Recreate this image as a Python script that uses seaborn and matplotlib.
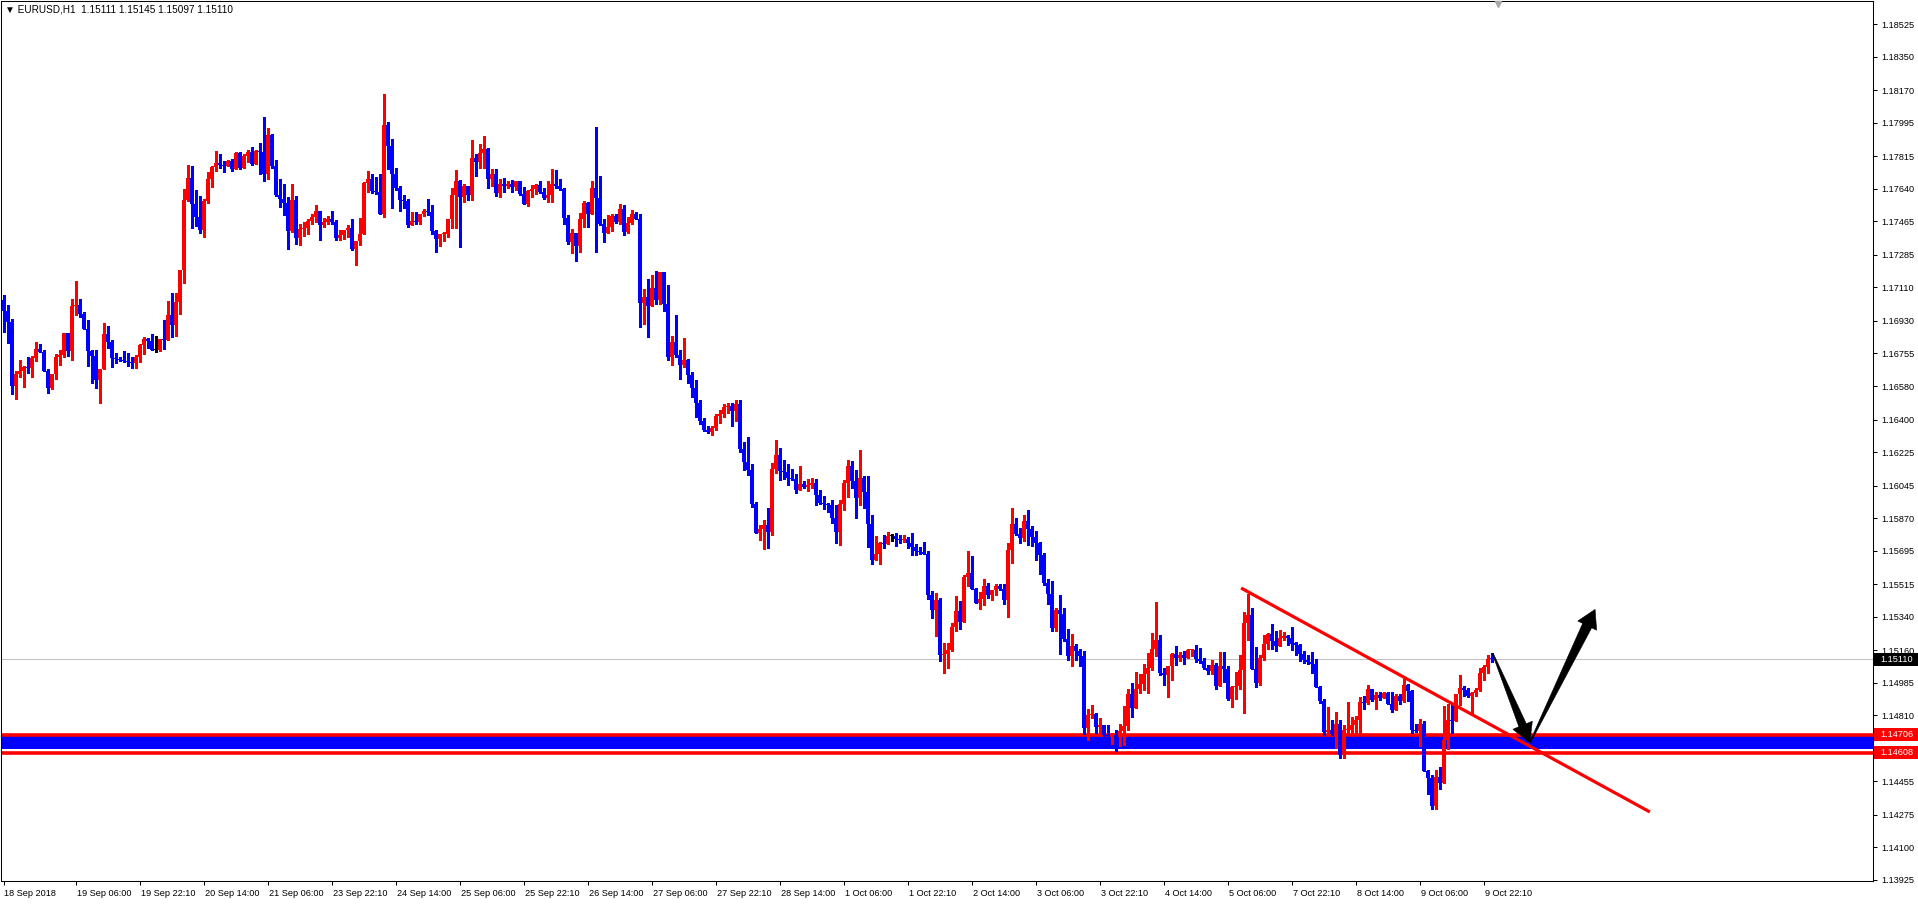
import numpy as np
import matplotlib
matplotlib.use("Agg")
import matplotlib.pyplot as plt
import matplotlib.transforms as mtransforms
from matplotlib.patches import Polygon, Rectangle
import seaborn as sns

symbol = "EURUSD,H1"
header_quote = "1.15111 1.15145 1.15097 1.15110"
first_open = 1.17041

close_px = [
    1.16984, 1.16925, 1.16580, 1.16647, 1.16659, 1.16683, 1.16675, 1.16731, 1.16778, 1.16763,
    1.16661, 1.16570, 1.16643, 1.16736, 1.16745, 1.16865, 1.16769, 1.17009, 1.17014, 1.16969,
    1.16885, 1.16769, 1.16742, 1.16614, 1.16674, 1.16858, 1.16817, 1.16731, 1.16724, 1.16718,
    1.16715, 1.16709, 1.16704, 1.16734, 1.16799, 1.16835, 1.16822, 1.16772, 1.16772, 1.16831,
    1.16826, 1.16960, 1.16910, 1.17030, 1.17202, 1.17578, 1.17697, 1.17560, 1.17489, 1.17417,
    1.17573, 1.17691, 1.17756, 1.17777, 1.17768, 1.17765, 1.17788, 1.17745, 1.17833, 1.17754,
    1.17817, 1.17838, 1.17772, 1.17842, 1.17838, 1.17722, 1.17928, 1.17761, 1.17605, 1.17586,
    1.17564, 1.17414, 1.17578, 1.17378, 1.17422, 1.17430, 1.17467, 1.17489, 1.17520, 1.17444,
    1.17462, 1.17477, 1.17462, 1.17376, 1.17391, 1.17418, 1.17430, 1.17317, 1.17358, 1.17400,
    1.17672, 1.17692, 1.17627, 1.17624, 1.17504, 1.17984, 1.17871, 1.17719, 1.17645, 1.17582,
    1.17575, 1.17444, 1.17466, 1.17462, 1.17504, 1.17520, 1.17516, 1.17414, 1.17373, 1.17396,
    1.17400, 1.17477, 1.17606, 1.17681, 1.17597, 1.17654, 1.17605, 1.17808, 1.17784, 1.17835,
    1.17853, 1.17691, 1.17718, 1.17618, 1.17664, 1.17654, 1.17664, 1.17650, 1.17681, 1.17614,
    1.17560, 1.17627, 1.17638, 1.17659, 1.17623, 1.17593, 1.17605, 1.17664, 1.17654, 1.17638,
    1.17483, 1.17354, 1.17403, 1.17333, 1.17476, 1.17564, 1.17503, 1.17647, 1.17591, 1.17453,
    1.17403, 1.17436, 1.17493, 1.17463, 1.17531, 1.17409, 1.17454, 1.17504, 1.17477, 1.17027,
    1.17056, 1.17009, 1.17108, 1.17041, 1.17192, 1.17023, 1.16737, 1.16817, 1.16746, 1.16692,
    1.16722, 1.16638, 1.16570, 1.16489, 1.16393, 1.16343, 1.16334, 1.16355, 1.16418, 1.16428,
    1.16468, 1.16472, 1.16445, 1.16482, 1.16244, 1.16172, 1.16127, 1.15945, 1.15791, 1.15814,
    1.15835, 1.15795, 1.16132, 1.16208, 1.16122, 1.16118, 1.16086, 1.16079, 1.16023, 1.16052,
    1.16037, 1.16046, 1.16061, 1.15993, 1.15951, 1.15944, 1.15939, 1.15871, 1.15795, 1.15948,
    1.16061, 1.16148, 1.16070, 1.15978, 1.16088, 1.16010, 1.15840, 1.15647, 1.15675, 1.15738,
    1.15729, 1.15772, 1.15772, 1.15756, 1.15751, 1.15760, 1.15738, 1.15715, 1.15691, 1.15688,
    1.15679, 1.15455, 1.15374, 1.15428, 1.15132, 1.15138, 1.15159, 1.15285, 1.15369, 1.15311,
    1.15553, 1.15575, 1.15487, 1.15414, 1.15433, 1.15503, 1.15455, 1.15482, 1.15503, 1.15491,
    1.15428, 1.15697, 1.15840, 1.15783, 1.15763, 1.15854, 1.15810, 1.15768, 1.15736, 1.15670,
    1.15521, 1.15460, 1.15279, 1.15374, 1.15353, 1.15218, 1.15129, 1.15181, 1.15155, 1.15129,
    1.14742, 1.14810, 1.14815, 1.14747, 1.14756, 1.14702, 1.14700, 1.14706, 1.14693, 1.14724,
    1.14751, 1.14923, 1.14849, 1.14949, 1.14980, 1.15030, 1.15066, 1.15168, 1.15213, 1.15037,
    1.15028, 1.15073, 1.15138, 1.15118, 1.15132, 1.15118, 1.15159, 1.15163, 1.15111, 1.15100,
    1.15064, 1.15046, 1.15079, 1.14966, 1.15075, 1.15057, 1.14899, 1.14962, 1.14967, 1.15052,
    1.15308, 1.15348, 1.15057, 1.14984, 1.15120, 1.15195, 1.15249, 1.15210, 1.15183, 1.15228,
    1.15235, 1.15226, 1.15192, 1.15190, 1.15142, 1.15106, 1.15097, 1.15088, 1.14962, 1.14885,
    1.14720, 1.14729, 1.14711, 1.14762, 1.14595, 1.14729, 1.14733, 1.14756, 1.14787, 1.14882,
    1.14876, 1.14950, 1.14894, 1.14917, 1.14905, 1.14930, 1.14873, 1.14840, 1.14912, 1.14887,
    1.14971, 1.14941, 1.14729, 1.14726, 1.14765, 1.14511, 1.14475, 1.14322, 1.14478, 1.14446,
    1.14675, 1.14783, 1.14781, 1.14923, 1.14958, 1.14948, 1.14912, 1.14932, 1.14944, 1.15037,
    1.15070, 1.15111, 1.15110,
]

high_px = [
    1.17068, 1.17014, 1.16942, 1.16659, 1.16718, 1.16686, 1.16736, 1.16740, 1.16815, 1.16808,
    1.16772, 1.16674, 1.16647, 1.16754, 1.16772, 1.16865, 1.16862, 1.17046, 1.17143, 1.17050,
    1.16978, 1.16933, 1.16772, 1.16772, 1.16674, 1.16919, 1.16901, 1.16826, 1.16760, 1.16736,
    1.16767, 1.16758, 1.16738, 1.16745, 1.16808, 1.16844, 1.16837, 1.16858, 1.16847, 1.16835,
    1.16933, 1.17035, 1.17080, 1.17080, 1.17202, 1.17638, 1.17767, 1.17761, 1.17632, 1.17600,
    1.17584, 1.17729, 1.17761, 1.17842, 1.17826, 1.17788, 1.17797, 1.17799, 1.17836, 1.17838,
    1.17829, 1.17847, 1.17865, 1.17847, 1.17887, 1.18026, 1.17966, 1.17933, 1.17793, 1.17691,
    1.17664, 1.17596, 1.17664, 1.17600, 1.17449, 1.17462, 1.17476, 1.17507, 1.17552, 1.17513,
    1.17484, 1.17493, 1.17520, 1.17471, 1.17418, 1.17420, 1.17444, 1.17477, 1.17358, 1.17484,
    1.17677, 1.17737, 1.17722, 1.17704, 1.17722, 1.18149, 1.18000, 1.17910, 1.17753, 1.17654,
    1.17606, 1.17584, 1.17513, 1.17513, 1.17507, 1.17534, 1.17584, 1.17552, 1.17418, 1.17400,
    1.17409, 1.17477, 1.17647, 1.17740, 1.17690, 1.17668, 1.17654, 1.17901, 1.17829, 1.17880,
    1.17922, 1.17860, 1.17745, 1.17749, 1.17695, 1.17700, 1.17681, 1.17686, 1.17681, 1.17681,
    1.17650, 1.17636, 1.17659, 1.17664, 1.17681, 1.17646, 1.17681, 1.17749, 1.17740, 1.17691,
    1.17646, 1.17498, 1.17423, 1.17403, 1.17512, 1.17575, 1.17569, 1.17681, 1.17973, 1.17707,
    1.17476, 1.17502, 1.17507, 1.17507, 1.17561, 1.17552, 1.17489, 1.17525, 1.17516, 1.17507,
    1.17104, 1.17158, 1.17176, 1.17197, 1.17192, 1.17194, 1.17122, 1.16848, 1.16961, 1.16776,
    1.16839, 1.16724, 1.16656, 1.16615, 1.16504, 1.16409, 1.16364, 1.16364, 1.16432, 1.16450,
    1.16481, 1.16490, 1.16490, 1.16504, 1.16504, 1.16280, 1.16307, 1.16160, 1.15957, 1.15832,
    1.15862, 1.15924, 1.16166, 1.16288, 1.16247, 1.16184, 1.16159, 1.16136, 1.16109, 1.16148,
    1.16068, 1.16079, 1.16088, 1.16079, 1.16019, 1.15987, 1.15953, 1.15969, 1.15939, 1.15966,
    1.16073, 1.16181, 1.16175, 1.16127, 1.16234, 1.16095, 1.16095, 1.15885, 1.15772, 1.15742,
    1.15778, 1.15795, 1.15786, 1.15790, 1.15781, 1.15777, 1.15768, 1.15792, 1.15733, 1.15715,
    1.15742, 1.15691, 1.15476, 1.15467, 1.15442, 1.15200, 1.15198, 1.15308, 1.15449, 1.15424,
    1.15562, 1.15691, 1.15664, 1.15494, 1.15473, 1.15544, 1.15521, 1.15485, 1.15514, 1.15514,
    1.15514, 1.15736, 1.15926, 1.15872, 1.15818, 1.15885, 1.15915, 1.15827, 1.15799, 1.15742,
    1.15682, 1.15541, 1.15530, 1.15388, 1.15455, 1.15387, 1.15272, 1.15245, 1.15195, 1.15168,
    1.15154, 1.14846, 1.14864, 1.14824, 1.14795, 1.14756, 1.14756, 1.14717, 1.14733, 1.14765,
    1.14858, 1.14953, 1.14984, 1.15043, 1.15030, 1.15084, 1.15145, 1.15254, 1.15419, 1.15240,
    1.15066, 1.15073, 1.15145, 1.15181, 1.15150, 1.15154, 1.15164, 1.15164, 1.15186, 1.15172,
    1.15120, 1.15079, 1.15105, 1.15091, 1.15150, 1.15150, 1.15073, 1.14967, 1.15043, 1.15132,
    1.15366, 1.15464, 1.15384, 1.15177, 1.15133, 1.15240, 1.15254, 1.15303, 1.15262, 1.15267,
    1.15258, 1.15244, 1.15285, 1.15204, 1.15195, 1.15154, 1.15133, 1.15150, 1.15115, 1.14966,
    1.14900, 1.14855, 1.14783, 1.14828, 1.14783, 1.14756, 1.14882, 1.14801, 1.14805, 1.14909,
    1.14912, 1.14971, 1.14953, 1.14935, 1.14935, 1.14935, 1.14935, 1.14935, 1.14926, 1.14926,
    1.15007, 1.14980, 1.14944, 1.14765, 1.14792, 1.14778, 1.14514, 1.14487, 1.14514, 1.14532,
    1.14858, 1.14869, 1.14873, 1.14926, 1.15025, 1.14966, 1.14957, 1.14935, 1.14959, 1.15066,
    1.15082, 1.15136, 1.15145,
]

low_px = [
    1.16871, 1.16812, 1.16539, 1.16512, 1.16629, 1.16575, 1.16650, 1.16629, 1.16715, 1.16763,
    1.16661, 1.16543, 1.16564, 1.16620, 1.16692, 1.16736, 1.16740, 1.16722, 1.16960, 1.16951,
    1.16885, 1.16686, 1.16597, 1.16571, 1.16489, 1.16672, 1.16786, 1.16683, 1.16704, 1.16715,
    1.16709, 1.16688, 1.16679, 1.16677, 1.16709, 1.16754, 1.16786, 1.16772, 1.16763, 1.16769,
    1.16781, 1.16826, 1.16844, 1.16849, 1.16969, 1.17134, 1.17573, 1.17430, 1.17439, 1.17403,
    1.17381, 1.17564, 1.17650, 1.17736, 1.17752, 1.17731, 1.17763, 1.17736, 1.17745, 1.17745,
    1.17758, 1.17784, 1.17767, 1.17772, 1.17718, 1.17682, 1.17695, 1.17754, 1.17600, 1.17543,
    1.17498, 1.17317, 1.17408, 1.17342, 1.17336, 1.17385, 1.17396, 1.17450, 1.17462, 1.17364,
    1.17435, 1.17450, 1.17450, 1.17364, 1.17367, 1.17369, 1.17382, 1.17313, 1.17229, 1.17340,
    1.17396, 1.17624, 1.17620, 1.17615, 1.17504, 1.17489, 1.17746, 1.17538, 1.17636, 1.17522,
    1.17538, 1.17436, 1.17444, 1.17450, 1.17453, 1.17493, 1.17498, 1.17396, 1.17301, 1.17333,
    1.17360, 1.17382, 1.17427, 1.17427, 1.17328, 1.17569, 1.17582, 1.17578, 1.17707, 1.17752,
    1.17752, 1.17645, 1.17654, 1.17600, 1.17596, 1.17623, 1.17645, 1.17623, 1.17636, 1.17605,
    1.17557, 1.17546, 1.17596, 1.17611, 1.17618, 1.17587, 1.17569, 1.17569, 1.17646, 1.17632,
    1.17449, 1.17342, 1.17295, 1.17252, 1.17301, 1.17435, 1.17435, 1.17503, 1.17301, 1.17448,
    1.17355, 1.17403, 1.17412, 1.17454, 1.17450, 1.17394, 1.17403, 1.17450, 1.17477, 1.16898,
    1.16911, 1.16841, 1.17014, 1.17020, 1.17023, 1.16984, 1.16722, 1.16692, 1.16737, 1.16620,
    1.16683, 1.16597, 1.16522, 1.16411, 1.16375, 1.16339, 1.16325, 1.16316, 1.16343, 1.16382,
    1.16414, 1.16436, 1.16364, 1.16393, 1.16226, 1.16131, 1.16101, 1.15931, 1.15791, 1.15751,
    1.15702, 1.15709, 1.15777, 1.16113, 1.16073, 1.16082, 1.16046, 1.16077, 1.16005, 1.16046,
    1.16032, 1.16016, 1.16034, 1.15939, 1.15944, 1.15917, 1.15903, 1.15844, 1.15736, 1.15727,
    1.15915, 1.15984, 1.16032, 1.15871, 1.15942, 1.15926, 1.15715, 1.15625, 1.15643, 1.15625,
    1.15709, 1.15729, 1.15747, 1.15720, 1.15738, 1.15742, 1.15709, 1.15674, 1.15674, 1.15679,
    1.15679, 1.15433, 1.15333, 1.15236, 1.15100, 1.15037, 1.15064, 1.15155, 1.15261, 1.15272,
    1.15311, 1.15503, 1.15487, 1.15414, 1.15380, 1.15401, 1.15442, 1.15431, 1.15458, 1.15485,
    1.15406, 1.15338, 1.15629, 1.15777, 1.15734, 1.15747, 1.15724, 1.15718, 1.15643, 1.15568,
    1.15512, 1.15406, 1.15263, 1.15263, 1.15138, 1.15207, 1.15105, 1.15075, 1.15105, 1.15075,
    1.14711, 1.14679, 1.14795, 1.14717, 1.14711, 1.14693, 1.14693, 1.14657, 1.14618, 1.14645,
    1.14649, 1.14729, 1.14801, 1.14849, 1.14930, 1.14948, 1.14930, 1.15055, 1.15129, 1.15025,
    1.14975, 1.14908, 1.14998, 1.15079, 1.15102, 1.15088, 1.15118, 1.15129, 1.15097, 1.15093,
    1.15057, 1.15030, 1.15030, 1.14953, 1.14966, 1.14989, 1.14894, 1.14855, 1.14899, 1.14949,
    1.14823, 1.15213, 1.15057, 1.14962, 1.14971, 1.15106, 1.15168, 1.15168, 1.15154, 1.15183,
    1.15213, 1.15186, 1.15159, 1.15133, 1.15102, 1.15091, 1.15088, 1.15038, 1.14962, 1.14876,
    1.14702, 1.14711, 1.14702, 1.14634, 1.14581, 1.14581, 1.14708, 1.14711, 1.14711, 1.14711,
    1.14846, 1.14873, 1.14887, 1.14846, 1.14891, 1.14905, 1.14869, 1.14828, 1.14837, 1.14873,
    1.14882, 1.14885, 1.14715, 1.14720, 1.14643, 1.14511, 1.14385, 1.14308, 1.14308, 1.14416,
    1.14446, 1.14631, 1.14715, 1.14783, 1.14864, 1.14914, 1.14908, 1.14819, 1.14914, 1.14941,
    1.15002, 1.15037, 1.15097,
]

price_ticks = [
    1.18525, 1.18350, 1.18170, 1.17995, 1.17815, 1.17640, 1.17465, 1.17285, 1.17110,
    1.16930, 1.16755, 1.16580, 1.16400, 1.16225, 1.16045, 1.15870, 1.15695, 1.15515,
    1.15340, 1.15160, 1.14985, 1.14810, 1.14630, 1.14455, 1.14275, 1.14100, 1.13925,
]

time_labels = [
    "18 Sep 2018", "19 Sep 06:00", "19 Sep 22:10", "20 Sep 14:00", "21 Sep 06:00",
    "23 Sep 22:10", "24 Sep 14:00", "25 Sep 06:00", "25 Sep 22:10", "26 Sep 14:00",
    "27 Sep 06:00", "27 Sep 22:10", "28 Sep 14:00", "1 Oct 06:00", "1 Oct 22:10",
    "2 Oct 14:00", "3 Oct 06:00", "3 Oct 22:10", "4 Oct 14:00", "5 Oct 06:00",
    "7 Oct 22:10", "8 Oct 14:00", "9 Oct 06:00", "9 Oct 22:10",
]
time_label_bars = [0] + [18 + 16 * k for k in range(len(time_labels) - 1)]

# drawn objects on the chart
zone_top = 1.14706
zone_bottom = 1.14608
zone_fill_bottom = 1.14627
last_price = 1.15110
trend_start = (309.4, 1.15494)
trend_end = (411.6, 1.14290)
arrow_down = ((372.3, 1.15143), (381.6, 1.14662))
arrow_up = ((381.6, 1.14662), (397.9, 1.15379))

BULL = "#FF0000"
BEAR = "#0000FF"
FS = 6.6

sns.set_theme(style="white")
plt.rcParams["font.family"] = ["Liberation Sans", "DejaVu Sans"]

W, H = 1918, 909
fig = plt.figure(figsize=(W / 100, H / 100), dpi=100)
fig.patch.set_facecolor("white")
ax = fig.add_axes([1 / W, (H - 881) / H, 1872 / W, 880 / H])
ax.set_facecolor("white")
ax.set_xlim(-0.625, 467.375)
ax.set_ylim(1.13919, 1.18650)
px = (1.18650 - 1.13919) / 880  # price per pixel

closes = np.array(close_px)
opens = np.concatenate([[first_open], closes[:-1]])
highs = np.maximum(np.array(high_px), np.maximum(opens, closes))
lows = np.minimum(np.array(low_px), np.minimum(opens, closes))
xs = np.arange(len(closes))
cols = np.where(closes > opens, BULL, np.where(closes < opens, BEAR, "#000000"))

# support zone
ax.axhspan(zone_fill_bottom, zone_top, color=BEAR, lw=0, zorder=1)
ax.axhline(zone_top, color=BULL, lw=2.6, zorder=2)
ax.axhline(zone_bottom, color=BULL, lw=2.6, zorder=2)
ax.axhline(last_price, color="#C0C0C0", lw=0.75, zorder=1.5)

# candles
ax.vlines(xs, lows, highs, colors=cols, linewidth=0.75, zorder=3, antialiased=False)
body_lo = np.minimum(opens, closes)
body_h = np.maximum(np.abs(closes - opens), px * 1.1)
ax.bar(xs, body_h, bottom=body_lo, width=0.75, color=cols, linewidth=0, zorder=3.5)

# trend line
ax.plot([trend_start[0], trend_end[0]], [trend_start[1], trend_end[1]],
        color=BULL, lw=2.3, solid_capstyle="butt", zorder=4)


def draw_arrow(start, end, w0, w1, head_w, head_len):
    p0 = ax.transData.transform(start)
    p1 = ax.transData.transform(end)
    d = p1 - p0
    u = d / np.hypot(*d)
    n = np.array([-u[1], u[0]])
    base = p1 - u * head_len
    pts = [p0 + n * w0 / 2, base + n * w1 / 2, base + n * head_w / 2, p1,
           base - n * head_w / 2, base - n * w1 / 2, p0 - n * w0 / 2]
    ax.add_patch(Polygon(pts, closed=True, transform=mtransforms.IdentityTransform(),
                         facecolor="black", edgecolor="black", lw=0.4, zorder=6))


draw_arrow(arrow_down[0], arrow_down[1], 1.0, 8, 21, 19)
draw_arrow(arrow_up[0], arrow_up[1], 1.0, 10, 21, 18)

# axes styling
for sp in ax.spines.values():
    sp.set_color("black")
    sp.set_linewidth(0.75)

ax.yaxis.tick_right()
ax.set_yticks(price_ticks)
ax.set_yticklabels([f"{t:.5f}" for t in price_ticks])
ax.tick_params(axis="y", right=True, left=False, direction="out", length=3,
               width=0.75, pad=3, labelsize=FS, colors="black")
ax.set_xticks(time_label_bars)
ax.set_xticklabels(time_labels)
ax.tick_params(axis="x", bottom=True, direction="out", length=3, width=0.75,
               pad=2.5, labelsize=FS, colors="black")
shift = mtransforms.ScaledTranslation(1 / 100, 0, fig.dpi_scale_trans)
for lbl in ax.get_xticklabels():
    lbl.set_horizontalalignment("left")
    lbl.set_transform(lbl.get_transform() + shift)

# price boxes on the scale
trans = mtransforms.blended_transform_factory(fig.transFigure, ax.transData)
for price, fc in [(last_price, "black"), (zone_top, BULL), (zone_bottom, BULL)]:
    ax.add_patch(Rectangle((1874 / W, price - 6.5 * px), 1 - 1874 / W, 13 * px,
                           transform=trans, facecolor=fc, edgecolor="none",
                           clip_on=False, zorder=10))
    ax.text(1880 / W, price, f"{price:.5f}", transform=trans, color="white",
            fontsize=FS, va="center", ha="left", zorder=11, clip_on=False)

# chart shift marker
top_trans = mtransforms.blended_transform_factory(ax.transData, ax.transAxes)
ax.plot([len(closes) + 0.6], [1 - 3 / 880], marker="v", ms=5, color="#A9A9A9",
        transform=top_trans, clip_on=False, zorder=7)

fig.text(5 / W, 1 - 10 / H, "\u25bc " + symbol + "  " + header_quote,
         fontsize=7.2, va="center", ha="left", color="black",
         family=["Liberation Sans", "DejaVu Sans"])

fig.savefig("out.png", dpi=100, facecolor="white")
